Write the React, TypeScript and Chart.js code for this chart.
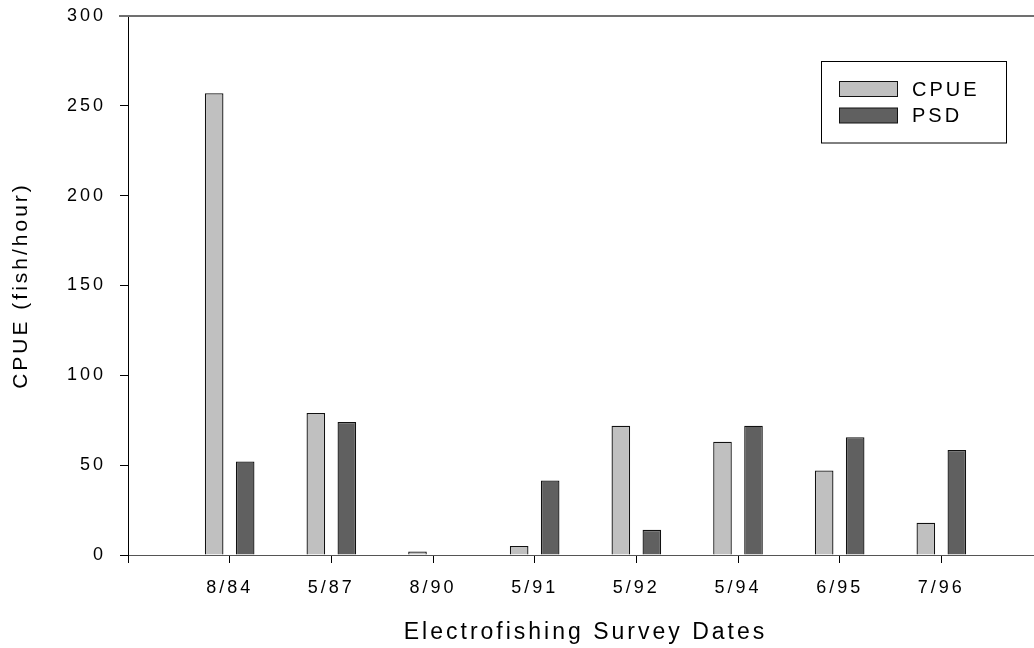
import React, { useEffect, useRef } from 'react';
import { Chart, registerables } from 'chart.js';

Chart.register(...registerables);

const categories = ['8/84', '5/87', '8/90', '5/91', '5/92', '5/94', '6/95', '7/96'];
const cpueValues: (number | null)[] = [257, 79, 2, 5, 72, 63, 47, 18];
const psdValues: (number | null)[] = [52, 74, null, 41.5, 14, 72, 65.5, 58.5];
const seriesNames = ['CPUE', 'PSD'];
const seriesColors = ['#c0c0c0', '#606060'];
const yMin = 0;
const yMax = 300;
const yStep = 50;

const FONT = '"Liberation Sans", Arial, Helvetica, sans-serif';

export default function App() {
  const ref = useRef<HTMLCanvasElement>(null);

  useEffect(() => {
    document.body.style.margin = '0';
    document.body.style.overflow = 'hidden';
    const canvas = ref.current;
    if (!canvas) return;

    const labels = ['', ...categories, ''];
    const pad = (a: (number | null)[]) => [null, ...a, null];

    const spacingPlugin = {
      id: 'spacing',
      beforeLayout(c: any) { c.ctx.letterSpacing = '3px'; },
      beforeDraw(c: any) { c.ctx.letterSpacing = '3px'; },
    };

    const framePlugin = {
      id: 'frame',
      afterDraw(c: any) {
        const ctx = c.ctx as CanvasRenderingContext2D;
        const area = c.chartArea;
        ctx.save();
        // top frame line
        ctx.strokeStyle = '#707070';
        ctx.lineWidth = 2;
        ctx.beginPath();
        ctx.moveTo(119, area.top);
        ctx.lineTo(c.width, area.top);
        ctx.stroke();

        // legend box
        ctx.strokeStyle = '#000';
        ctx.lineWidth = 1;
        ctx.strokeRect(821.5, 61.5, 185, 81.5);
        const rows = [89, 115.5];
        (ctx as any).letterSpacing = '3px';
        ctx.font = `20px ${FONT}`;
        ctx.textBaseline = 'middle';
        ctx.textAlign = 'left';
        for (let i = 0; i < seriesNames.length; i++) {
          const cy = rows[i];
          ctx.fillStyle = seriesColors[i];
          ctx.fillRect(839.5, cy - 7.5, 58, 15);
          ctx.strokeStyle = '#111';
          ctx.strokeRect(839.5, cy - 7.5, 58, 15);
          ctx.fillStyle = '#000';
          ctx.fillText(seriesNames[i], 912, cy + 1);
        }
        ctx.restore();
      },
    };

    const chart = new Chart(canvas, {
      type: 'bar',
      data: {
        labels,
        datasets: [
          {
            label: seriesNames[0],
            data: pad(cpueValues),
            backgroundColor: seriesColors[0],
            borderColor: '#111',
            borderWidth: 1.3,
            categoryPercentage: 0.61,
            barPercentage: 0.6,
          },
          {
            label: seriesNames[1],
            data: pad(psdValues),
            backgroundColor: seriesColors[1],
            borderColor: '#111',
            borderWidth: 1.3,
            categoryPercentage: 0.61,
            barPercentage: 0.6,
          },
        ],
      },
      options: {
        responsive: false,
        animation: false,
        events: [],
        layout: { padding: { left: 0, right: 17, top: 16, bottom: 0 } },
        plugins: {
          legend: { display: false },
          tooltip: { enabled: false },
        },
        scales: {
          x: {
            type: 'category',
            offset: false,
            grid: {
              offset: false,
              drawOnChartArea: false,
              drawTicks: true,
              tickLength: 8,
              tickColor: '#000',
            },
            border: { color: '#555', width: 1 },
            ticks: {
              autoSkip: false,
              maxRotation: 0,
              minRotation: 0,
              padding: 14,
              color: '#000',
              font: { family: FONT, size: 18 },
            },
            title: {
              display: true,
              text: 'Electrofishing Survey Dates',
              color: '#000',
              font: { family: FONT, size: 23 },
              padding: { top: 0, bottom: 2 },
            },
            afterFit: (s: any) => { s.height = 93; s.paddingLeft = 0; s.paddingRight = 0; },
          },
          y: {
            min: yMin,
            max: yMax,
            grid: {
              drawOnChartArea: false,
              drawTicks: true,
              tickLength: 8,
              tickColor: '#000',
            },
            border: { color: '#000', width: 1 },
            ticks: {
              stepSize: yStep,
              padding: 14,
              color: '#000',
              font: { family: FONT, size: 18 },
            },
            title: {
              display: true,
              text: 'CPUE (fish/hour)',
              color: '#000',
              font: { family: FONT, size: 21 },
              padding: { top: 9, bottom: 0 },
            },
            afterFit: (s: any) => { s.width = 128; s.paddingTop = 0; s.paddingBottom = 0; },
          },
        },
      },
      plugins: [spacingPlugin, framePlugin],
    } as any);

    return () => chart.destroy();
  }, []);

  return (
    <div style={{ position: 'fixed', left: 0, top: 0, width: 1034, height: 648, overflow: 'hidden', background: '#fff' }}>
      <canvas ref={ref} width={1060} height={648} style={{ display: 'block' }} />
    </div>
  );
}
